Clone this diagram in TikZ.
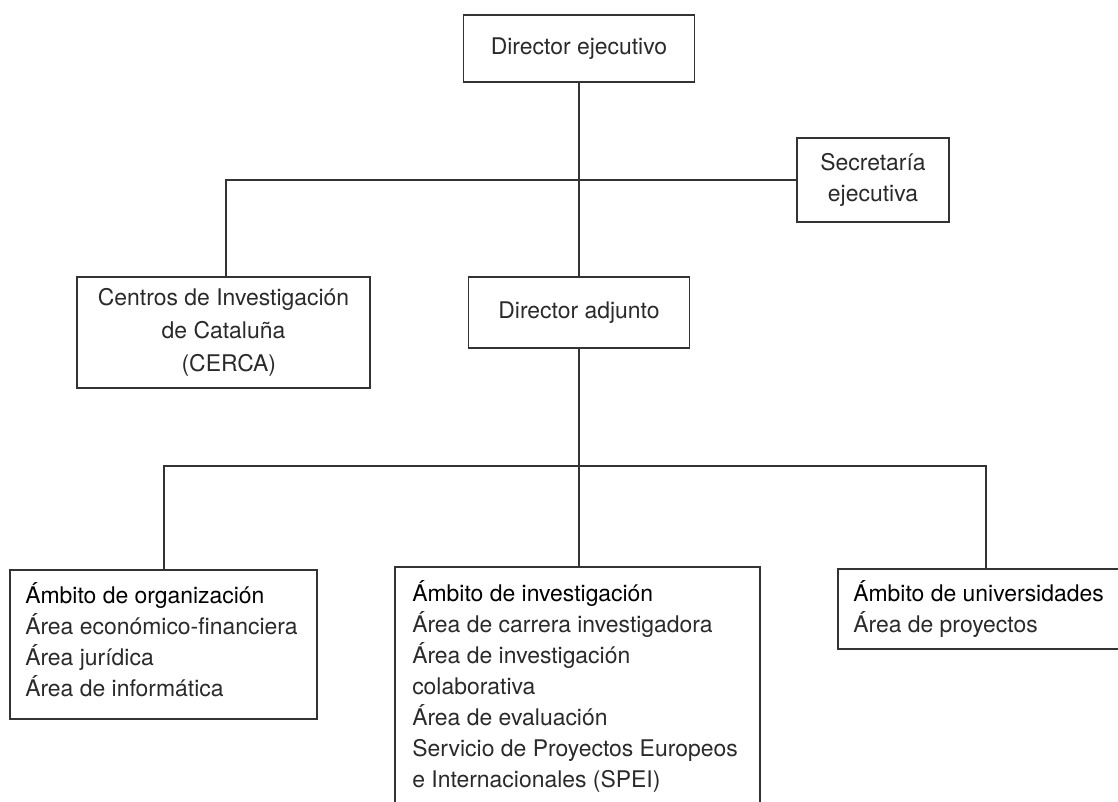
\documentclass[tikz,border=0pt]{standalone}
\usepackage{fontspec}
\setmainfont{TeX Gyre Heros}
\definecolor{linec}{HTML}{333333}
\definecolor{txt}{HTML}{2A2A2A}
\definecolor{headc}{HTML}{000000}
\begin{document}
\begin{tikzpicture}[x=0.75pt,y=-0.75pt,
  box/.style={draw=linec,line width=1.1pt,rectangle,inner sep=0pt,align=center,
    font=\fontsize{17.2}{23.25}\selectfont,text=txt},
  conn/.style={draw=linec,line width=1.1pt},
  list/.style={inner sep=0pt,align=left,anchor=base west,
    font=\fontsize{17.2}{23.25}\selectfont,text=txt}]
\useasboundingbox (0,0) rectangle (1118,802);
\clip (0,0) rectangle (1118,802);

% boxes
\node[box,minimum width=173.25pt,minimum height=50.25pt] (de) at (579,48.5) {Director ejecutivo};
\node[box,minimum width=114pt,minimum height=63pt] (sec) at (873,180) {Secretaría\\ejecutiva};
\node[box,minimum width=219.75pt,minimum height=83.25pt,
  font=\fontsize{17.2}{25}\selectfont] (cerca) at (223.5,332.5)
  {Centros de Investigación\\de Cataluña\\\hspace*{8pt}(CERCA)};
\node[box,minimum width=165.75pt,minimum height=53.25pt] (da) at (579,312.5) {Director adjunto};
\node[box,minimum width=230.25pt,minimum height=111.75pt] (org) at (163.5,644.5) {};
\node[box,minimum width=273.75pt,minimum height=197.25pt] (inv) at (577.5,698.5) {};
\node[box,minimum width=226.5pt,minimum height=60pt] (uni) at (989,609) {};

% box texts (anchor = baseline of the last line)
\node[list] (orgt) at (25,696) {{\color{headc}Ámbito de organización}\\Área económico-financiera\\Área jurídica\\Área de informática};
\node[list] (invt) at (412,787) {{\color{headc}Ámbito de investigación}\\Área de carrera investigadora\\Área de investigación\\colaborativa\\Área de evaluación\\Servicio de Proyectos Europeos\\e Internacionales (SPEI)};
\node[list] (unit) at (853,632) {{\color{headc}Ámbito de universidades}\\Área de proyectos};

% connectors
\coordinate (c1) at (226,180);
\coordinate (bl) at (164,466);
\coordinate (br) at (986,466);
\draw[conn] (de.south) -- (de.south |- da.north);
\draw[conn] (sec.west) -- (c1) -- (c1 |- cerca.north);
\draw[conn] (da.south) -- (da.south |- inv.north);
\draw[conn] (bl |- org.north) -- (bl) -- (br) -- (br |- uni.north);
\end{tikzpicture}
\end{document}
